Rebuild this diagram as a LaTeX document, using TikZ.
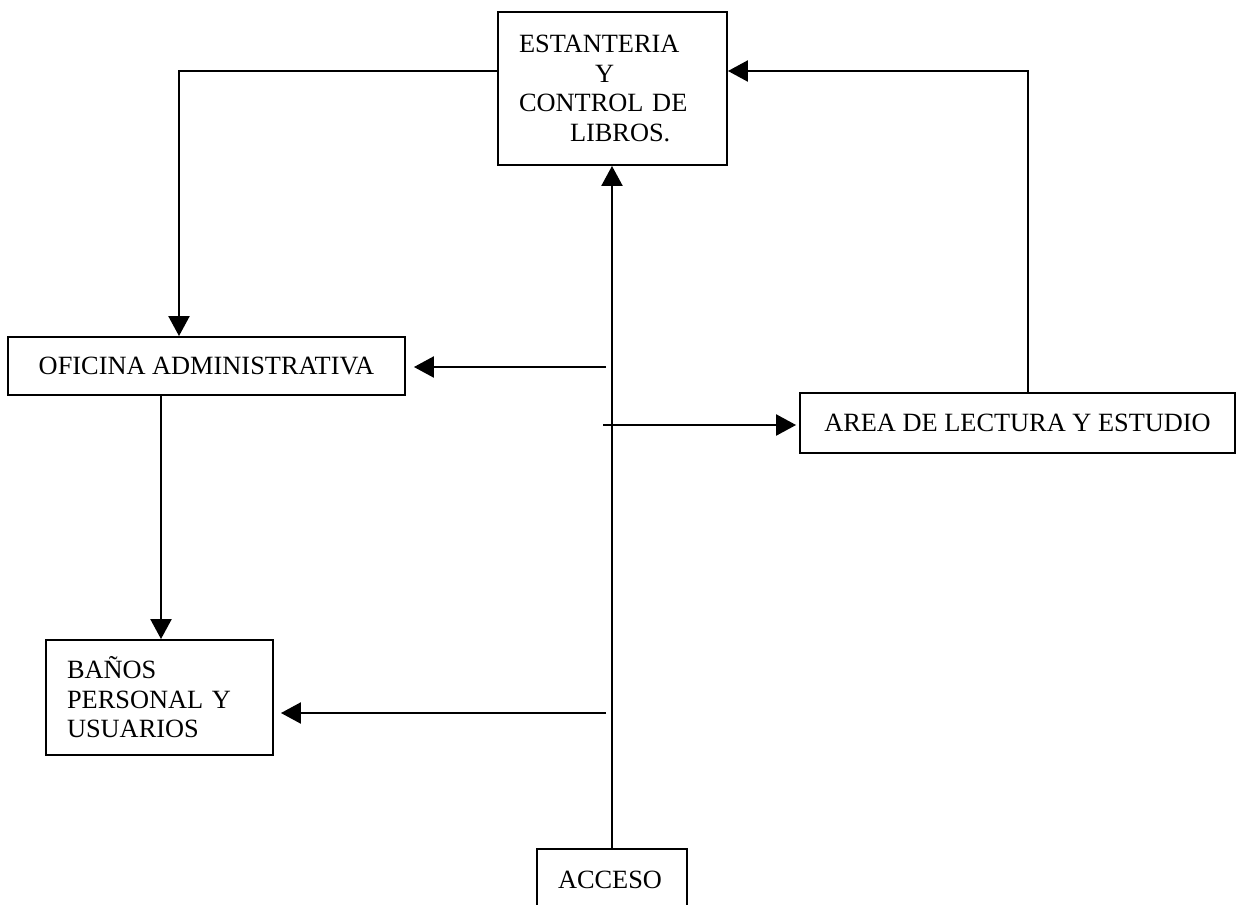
\documentclass[tikz,border=0pt]{standalone}
\usepackage{fontspec}
\setmainfont{Liberation Serif}
\usetikzlibrary{arrows.meta}

\tikzset{
    sala/.style={draw, line width=1.1pt, inner sep=0pt, font=\fontsize{15}{16.8}\selectfont},
}

\begin{document}
\begin{tikzpicture}[x=0.02cm, y=-0.02cm, line width=1.3pt,
        >={Triangle[length=0.4cm, width=0.42cm]}]
            \useasboundingbox (0,0) rectangle (1237,904);

            \node[sala, minimum height=3.06cm, inner xsep=0.42cm, text width=3.74cm, align=left] (est) at (612.5,88.5)
                {ESTANTERIA\\\hspace*{1.52cm}Y\\CONTROL DE\\\hspace*{1.02cm}LIBROS.};
            \node[sala, minimum width=7.94cm, minimum height=1.16cm] (ofi) at (206.5,366) {OFICINA ADMINISTRATIVA};
            \node[sala, minimum width=8.7cm, minimum height=1.2cm] (area) at (1017.5,423) {AREA DE LECTURA Y ESTUDIO};
            \node[sala, minimum height=2.3cm, inner xsep=0.42cm, text width=3.7cm, align=left] (banos) at (159.5,697.5)
                {BAÑOS\\PERSONAL Y\\USUARIOS};
            \node[sala, minimum height=1.22cm, inner xsep=0.42cm, text width=2.16cm, align=left] (acc) at (612,879.5) {ACCESO};

            \coordinate (c1) at (606,367);
            \coordinate (c2) at (603,425);
            \coordinate (c3) at (606,713);

            \draw[->] (acc.north) -- (acc.north |- est.south);
            \draw[->] (est.west |- 0,71) -| (179,0 |- ofi.north);
            \draw[->] (area.north -| 1028,0) |- (est.east |- 0,71);
            \draw[->] (ofi.south -| 161,0) -- (banos.north -| 161,0);

            \draw[->, shorten >=0.16cm] (c1) -- (ofi.east |- c1);
            \draw[->, shorten >=0.06cm] (c2) -- (area.west |- c2);
            \draw[->, shorten >=0.14cm] (c3) -- (banos.east |- c3);
        \end{tikzpicture}
\end{document}
